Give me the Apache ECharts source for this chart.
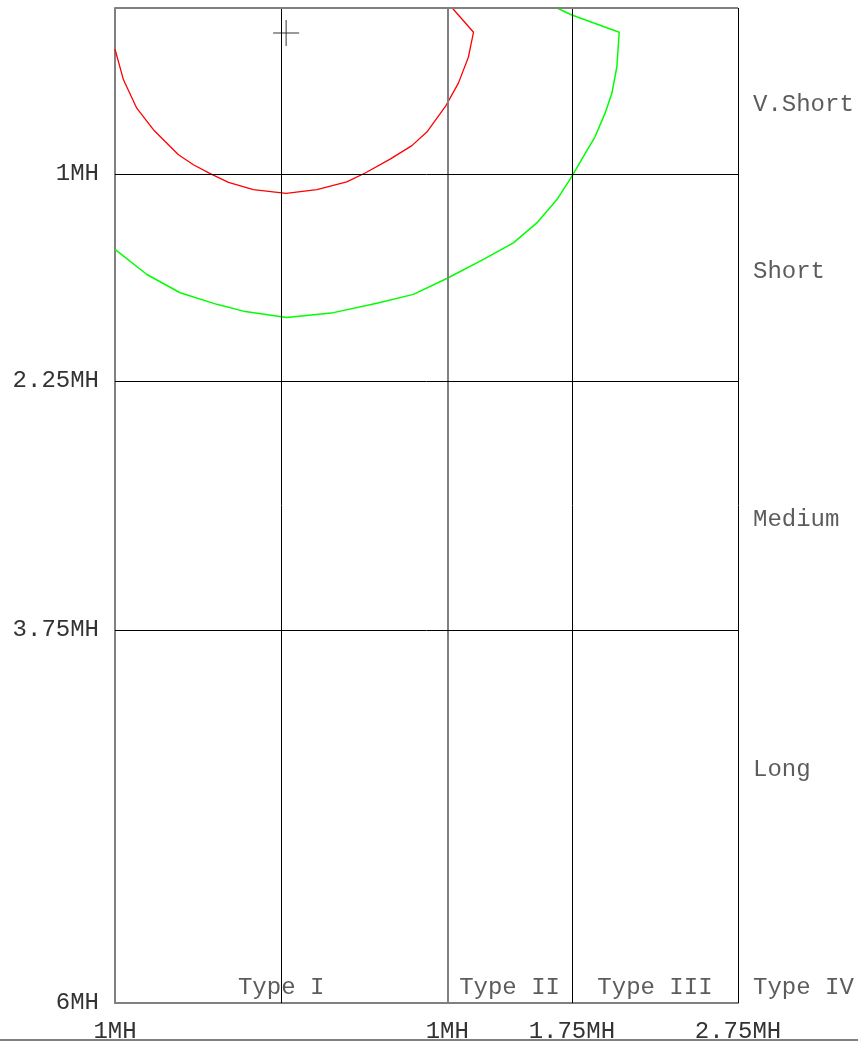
<!DOCTYPE html>
<html>
<head>
<meta charset="utf-8">
<script src="https://cdn.jsdelivr.net/npm/echarts@6/dist/echarts.min.js"></script>
<style>
  html, body { margin: 0; padding: 0; background: #fff; }
  #chart { width: 858px; height: 1044px; }
</style>
</head>
<body>
<div id="chart"></div>
<script>
// axis ticks (value -> label)
var xTickValues = [-1, 1, 1.75, 2.75];
var xTickLabels = ['1MH', '1MH', '1.75MH', '2.75MH'];
var yTickValues = [1, 2.25, 3.75, 6];
var yTickLabels = ['1MH', '2.25MH', '3.75MH', '6MH'];

// inner grid lines
var xGridLines = [0, 1, 1.75];
var yGridLines = [1, 2.25, 3.75];

// region names
var typeNames = ['Type I', 'Type II', 'Type III', 'Type IV'];
var typeX = [0, 1.375, 2.25, 2.75];
var typeY = 5.91;
var bandNames = ['V.Short', 'Short', 'Medium', 'Long'];
var bandY = [0.584, 1.589, 3.087, 4.592];

// crosshair marker
var crossPoint = [0.03, 0.15];

// curves, [x, y]
var redCurve = [
  [1.03, 0], [1.158, 0.146], [1.127, 0.297], [1.067, 0.453], [0.991, 0.59],
  [0.877, 0.748], [0.787, 0.83], [0.656, 0.911], [0.506, 0.995], [0.395, 1.049],
  [0.215, 1.095], [0.03, 1.118], [-0.167, 1.095], [-0.317, 1.051], [-0.427, 0.999],
  [-0.528, 0.945], [-0.618, 0.885], [-0.769, 0.734], [-0.869, 0.604], [-0.949, 0.433],
  [-1, 0.249]
];
var greenCurve = [
  [1.66, 0], [1.75, 0.042], [2.035, 0.146], [2.021, 0.353], [1.991, 0.513],
  [1.95, 0.634], [1.89, 0.775], [1.82, 0.895], [1.75, 1.015], [1.66, 1.155],
  [1.539, 1.296], [1.398, 1.416], [1.218, 1.516], [0.997, 1.631], [0.796, 1.727],
  [0.576, 1.781], [0.315, 1.837], [0.034, 1.867], [-0.227, 1.828], [-0.387, 1.787],
  [-0.608, 1.717], [-0.808, 1.607], [-1, 1.456]
];

var FONT = 'Liberation Mono';
var TXT = '#333';

var gridMarks = [];
xGridLines.forEach(function (v) {
  gridMarks.push({
    xAxis: v,
    lineStyle: v === 1 ? { color: '#808080', width: 2, type: 'solid' } : { color: '#000', width: 1, type: 'solid' }
  });
});
yGridLines.forEach(function (v) {
  gridMarks.push({ yAxis: v, lineStyle: { color: '#000', width: 1, type: 'solid' } });
});
gridMarks.push({ yAxis: 0, lineStyle: { color: '#808080', width: 2, type: 'solid' } });
gridMarks.push({ xAxis: 2.75, lineStyle: { color: '#000', width: 1, type: 'solid' } });

var labelData = [];
typeNames.forEach(function (n, i) {
  labelData.push({
    value: [typeX[i], typeY], name: n,
    label: i === 3 ? { position: 'right', distance: 15 } : { position: 'inside' }
  });
});
bandNames.forEach(function (n, i) {
  labelData.push({ value: [2.75, bandY[i]], name: n, label: { position: 'right', distance: 15 } });
});

var chart = echarts.init(document.getElementById('chart'));
chart.setOption({
  animation: false,
  grid: { left: 115, top: 8, width: 623, height: 997, show: false },
  graphic: [{
    type: 'rect', shape: { x: 0, y: 1039, width: 858, height: 2 },
    style: { fill: '#808080' }, silent: true
  }],
  xAxis: {
    type: 'value', min: -1, max: 2.75,
    axisLine: { show: true, onZero: false, lineStyle: { color: '#808080', width: 2 } },
    axisTick: { show: false },
    splitLine: { show: false },
    axisLabel: {
      customValues: xTickValues,
      margin: 17,
      fontFamily: FONT, fontSize: 24, color: TXT,
      formatter: function (v) {
        var i = xTickValues.indexOf(v);
        return i >= 0 ? xTickLabels[i] : '';
      }
    }
  },
  yAxis: {
    type: 'value', min: 0, max: 6, inverse: true,
    axisLine: { show: true, onZero: false, lineStyle: { color: '#808080', width: 2 } },
    axisTick: { show: false },
    splitLine: { show: false },
    axisLabel: {
      customValues: yTickValues,
      margin: 16,
      padding: [4, 0, 0, 0],
      fontFamily: FONT, fontSize: 24, color: TXT,
      formatter: function (v) {
        var i = yTickValues.indexOf(v);
        return i >= 0 ? yTickLabels[i] : '';
      }
    }
  },
  series: [
    {
      name: 'red', type: 'line', data: redCurve, showSymbol: false, smooth: false,
      lineStyle: { color: '#ff0000', width: 1.3 },
      markLine: {
        silent: true, symbol: ['none', 'none'], label: { show: false },
        data: gridMarks
      },
      z: 3
    },
    {
      name: 'green', type: 'line', data: greenCurve, showSymbol: false, smooth: false,
      lineStyle: { color: '#00ff00', width: 1.5 },
      z: 3
    },
    {
      name: 'cross', type: 'scatter', data: [crossPoint],
      symbol: 'path://M0,12.5h26v1h-26z M12.5,0h1v26h-1z',
      symbolSize: [26, 26],
      itemStyle: { color: '#000' },
      silent: true, z: 4
    },
    {
      name: 'labels', type: 'scatter', data: labelData, symbolSize: 0, clip: false, silent: true,
      label: {
        show: true, formatter: '{b}',
        fontFamily: FONT, fontSize: 24, color: TXT
      }
    }
  ]
});
</script>
</body>
</html>
